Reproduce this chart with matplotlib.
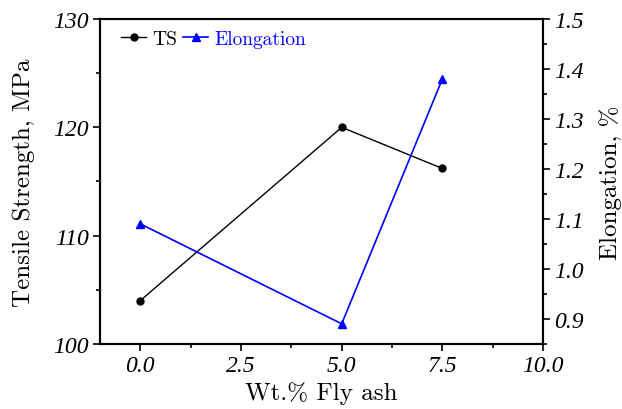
import matplotlib
matplotlib.use('Agg')
import matplotlib.pyplot as plt
from matplotlib.ticker import MultipleLocator, FormatStrFormatter

# data
wt_fly_ash = [0.0, 5.0, 7.5]
tensile_strength = [104.0, 120.0, 116.2]
elongation = [1.09, 0.89, 1.38]

label_font = {'family': 'cmr10', 'size': 18}
tick_font = {'family': 'Liberation Serif', 'style': 'italic', 'size': 17}

fig, ax = plt.subplots(figsize=(6.22, 4.10), dpi=100)
fig.subplots_adjust(left=0.161, right=0.873, top=0.951, bottom=0.159)
ax2 = ax.twinx()

l1, = ax.plot(wt_fly_ash, tensile_strength, color='black', lw=1, marker='o', ms=5, label='TS')
l2, = ax2.plot(wt_fly_ash, elongation, color='blue', lw=1.2, marker='^', ms=6, label='Elongation')

ax.set_xlim(-1, 10)
ax.set_ylim(100, 130)
ax2.set_ylim(0.85, 1.5)

ax.xaxis.set_major_locator(MultipleLocator(2.5))
ax.xaxis.set_minor_locator(MultipleLocator(1.25))
ax.yaxis.set_major_locator(MultipleLocator(10))
ax.yaxis.set_minor_locator(MultipleLocator(5))
ax2.yaxis.set_major_locator(MultipleLocator(0.1))
ax2.yaxis.set_minor_locator(MultipleLocator(0.05))
ax.xaxis.set_major_formatter(FormatStrFormatter('%.1f'))
ax.yaxis.set_major_formatter(FormatStrFormatter('%d'))
ax2.yaxis.set_major_formatter(FormatStrFormatter('%.1f'))

for a in (ax, ax2):
    a.tick_params(which='major', direction='out', length=5, width=1.2, pad=3)
    a.tick_params(which='minor', direction='out', length=3, width=1.2)
    for sp in a.spines.values():
        sp.set_linewidth(1.5)
    for t in a.get_xticklabels() + a.get_yticklabels():
        t.set_fontproperties(matplotlib.font_manager.FontProperties(**tick_font))
ax.tick_params(top=False)

ax.set_xlabel('Wt.% Fly ash', fontdict=label_font, labelpad=4)
ax.set_ylabel('Tensile Strength, MPa', fontdict=label_font, labelpad=13)
ax2.set_ylabel('Elongation, %', fontdict=label_font, labelpad=11)

leg = ax.legend(handles=[l1, l2], loc='upper left', ncol=2, frameon=False,
                handlelength=1.3, handletextpad=0.3, columnspacing=0.3,
                bbox_to_anchor=(0.03, 0.99), borderaxespad=0,
                prop={'family': 'cmr10', 'size': 14})
leg.get_texts()[1].set_color('blue')

fig.savefig('out.png', dpi=100)
